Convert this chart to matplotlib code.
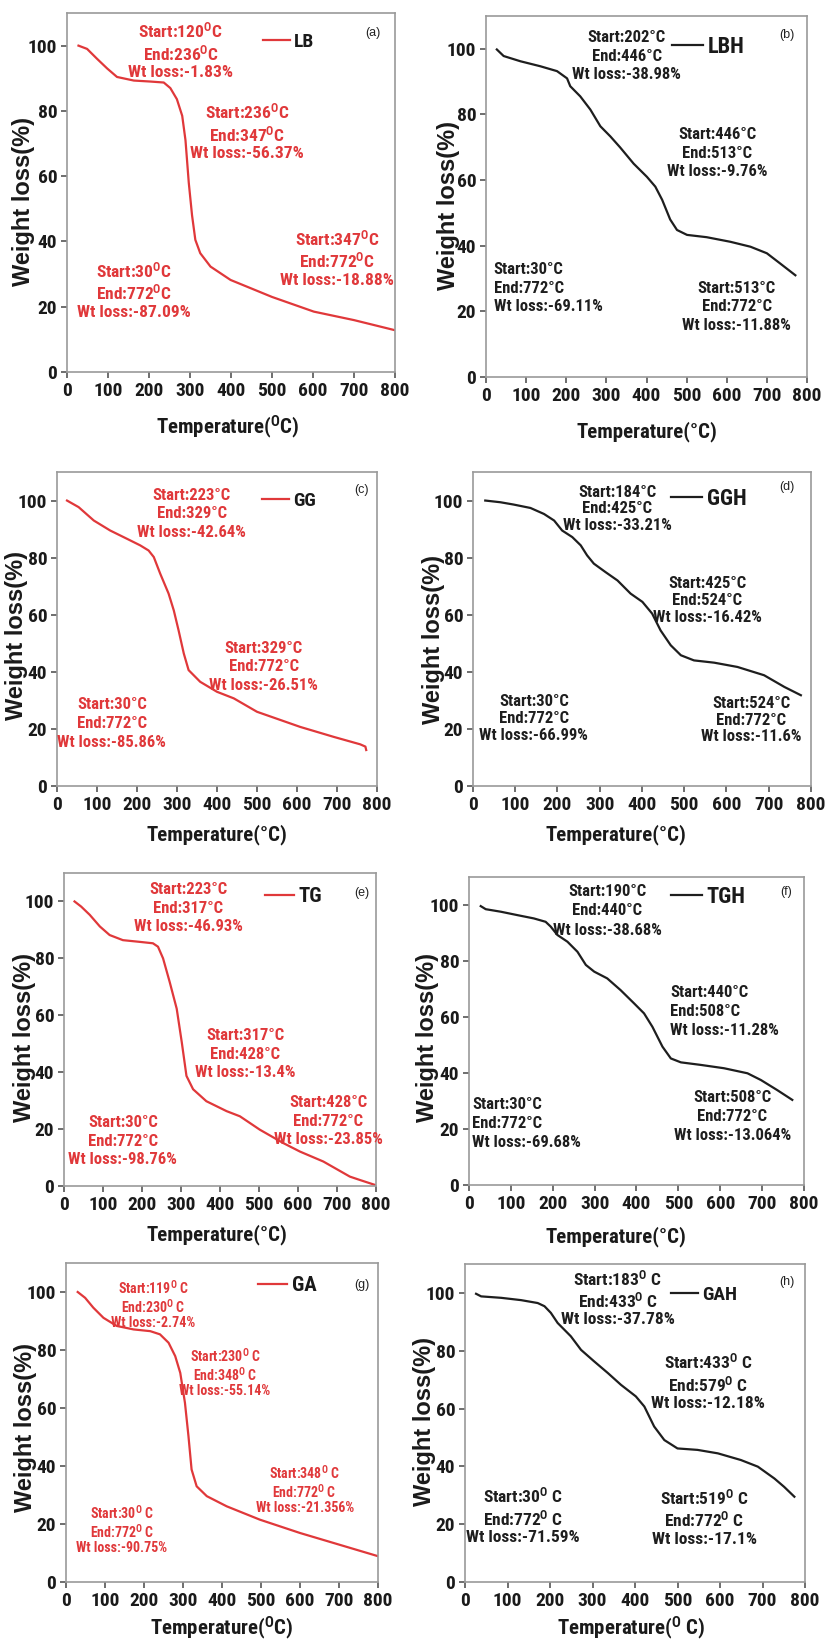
import matplotlib
matplotlib.use("Agg")
import matplotlib.pyplot as plt

plt.rcParams['font.family'] = ['Liberation Sans', 'DejaVu Sans']
plt.rcParams['font.weight'] = 'bold'
plt.rcParams['mathtext.default'] = 'regular'

NARROW = ['Liberation Sans Narrow', 'Roboto Condensed', 'Archivo Narrow', 'Liberation Sans', 'DejaVu Sans']
RED = '#e0383a'
DARK = '#1e1e1e'

# ---- data (temperature in C, weight %) ----
temp_lb = [28, 49, 73, 98, 122, 163, 203, 236, 252, 268, 281, 289, 297, 305, 313, 325, 350, 399, 500, 602, 700, 800]
wt_lb = [100, 99, 96, 93, 90.4, 89.3, 89, 88.7, 87, 83.6, 78.5, 71, 58, 48, 40.5, 36.4, 32.3, 28.2, 23, 18.5, 15.9, 12.8]

temp_lbh = [27, 44, 86, 135, 177, 202, 210, 235, 260, 285, 310, 334, 368, 401, 422, 439, 459, 476, 501, 550, 609, 659, 700, 733, 771]
wt_lbh = [99.8, 97.8, 96.2, 94.7, 93.2, 91, 88.6, 85.5, 81.5, 76.4, 73.3, 70, 65, 61, 58, 54, 48, 44.8, 43.3, 42.6, 41.2, 39.7, 37.7, 34.6, 31]

temp_gg = [25, 54, 92, 133, 175, 208, 229, 242, 258, 279, 292, 304, 317, 329, 358, 400, 442, 500, 608, 692, 758, 771, 773]
wt_gg = [100, 97.7, 93, 89.5, 86.6, 84.3, 82.5, 80.2, 74.4, 67.4, 61.5, 54.5, 46.4, 40.6, 36.5, 33, 30.7, 26, 20.7, 17.2, 14.6, 13.8, 12.6]

temp_ggh = [29, 65, 96, 136, 168, 192, 211, 235, 255, 270, 286, 313, 342, 373, 401, 424, 444, 468, 492, 523, 571, 626, 689, 737, 776]
wt_ggh = [100, 99.4, 98.6, 97.4, 95.3, 93, 89.5, 87.2, 84.3, 80.8, 77.9, 75, 72, 67.4, 64.5, 60.4, 54.5, 49.3, 45.8, 44, 43.2, 41.7, 38.8, 34.7, 31.8]

temp_tg = [27, 44, 66, 92, 117, 151, 194, 228, 241, 254, 271, 289, 302, 314, 331, 365, 417, 451, 502, 562, 605, 665, 733, 759, 797]
wt_tg = [100, 98.2, 95.3, 91.2, 88.2, 86.4, 85.8, 85.3, 84.1, 80, 71.7, 62.3, 50.5, 38.7, 34, 29.8, 26.3, 24.5, 19.8, 15.1, 12.1, 8.6, 3.3, 2.1, 0.4]

temp_tgh = [28, 40, 76, 115, 155, 183, 195, 211, 235, 259, 279, 299, 330, 362, 394, 418, 438, 462, 482, 506, 553, 609, 665, 697, 736, 772]
wt_tgh = [99.6, 98.5, 97.6, 96.4, 95.2, 94, 92.3, 89.3, 86.9, 83.3, 78.6, 76.2, 73.8, 69.6, 64.9, 61.3, 56.5, 49.4, 45.2, 43.8, 42.9, 41.7, 39.9, 37.5, 33.9, 30.4]

temp_ga = [30, 49, 70, 96, 130, 173, 216, 241, 263, 280, 293, 305, 314, 322, 335, 361, 412, 497, 600, 685, 800]
wt_ga = [100, 98, 94.6, 91.1, 88.3, 87.1, 86.5, 85.4, 82.5, 77.9, 72.1, 61.8, 50.3, 38.8, 33, 29.6, 26.1, 21.5, 16.9, 13.5, 8.9]

temp_gah = [26, 38, 85, 132, 171, 187, 202, 218, 249, 273, 304, 336, 367, 402, 422, 445, 469, 500, 547, 595, 649, 689, 728, 751, 775]
wt_gah = [99.7, 98.8, 98.3, 97.5, 96.5, 95.4, 93.1, 89.6, 85, 80.3, 76.3, 72.3, 68.2, 64.2, 60.7, 53.8, 49.1, 46.2, 45.7, 44.5, 42.2, 39.9, 35.8, 32.9, 29.5]

names = ['LB', 'LBH', 'GG', 'GGH', 'TG', 'TGH', 'GA', 'GAH']
tags = ['(a)', '(b)', '(c)', '(d)', '(e)', '(f)', '(g)', '(h)']

O = '$^{O}$'
notes_a = ['Start:120%sC\nEnd:236%sC\nWt loss:-1.83%%' % (O, O),
           'Start:236%sC\nEnd:347%sC\nWt loss:-56.37%%' % (O, O),
           'Start:347%sC\nEnd:772%sC\nWt loss:-18.88%%' % (O, O),
           'Start:30%sC\nEnd:772%sC\nWt loss:-87.09%%' % (O, O)]
notes_b = ['Start:202°C\nEnd:446°C\nWt loss:-38.98%',
           'Start:446°C\nEnd:513°C\nWt loss:-9.76%',
           'Start:30°C\nEnd:772°C\nWt loss:-69.11%',
           'Start:513°C\nEnd:772°C\nWt loss:-11.88%']
notes_c = ['Start:223°C\nEnd:329°C\nWt loss:-42.64%',
           'Start:329°C\nEnd:772°C\nWt loss:-26.51%',
           'Start:30°C\nEnd:772°C\nWt loss:-85.86%']
notes_d = ['Start:184°C\nEnd:425°C\nWt loss:-33.21%',
           'Start:425°C\nEnd:524°C\nWt loss:-16.42%',
           'Start:30°C\nEnd:772°C\nWt loss:-66.99%',
           'Start:524°C\nEnd:772°C\nWt loss:-11.6%']
notes_e = ['Start:223°C\nEnd:317°C\nWt loss:-46.93%',
           'Start:317°C\nEnd:428°C\nWt loss:-13.4%',
           'Start:428°C\nEnd:772°C\nWt loss:-23.85%',
           'Start:30°C\nEnd:772°C\nWt loss:-98.76%']
notes_f = ['Start:190°C\nEnd:440°C\nWt loss:-38.68%',
           'Start:440°C\nEnd:508°C\nWt loss:-11.28%',
           'Start:30°C\nEnd:772°C\nWt loss:-69.68%',
           'Start:508°C\nEnd:772°C\nWt loss:-13.064%']
notes_g = ['Start:119%s C\nEnd:230%s C\nWt loss:-2.74%%' % (O, O),
           'Start:230%s C\nEnd:348%s C\nWt loss:-55.14%%' % (O, O),
           'Start:348%s C\nEnd:772%s C\nWt loss:-21.356%%' % (O, O),
           'Start:30%s C\nEnd:772%s C\nWt loss:-90.75%%' % (O, O)]
notes_h = ['Start:183%s C\nEnd:433%s C\nWt loss:-37.78%%' % (O, O),
           'Start:433%s C\nEnd:579%s C\nWt loss:-12.18%%' % (O, O),
           'Start:30%s C\nEnd:772%s C\nWt loss:-71.59%%' % (O, O),
           'Start:519%s C\nEnd:772%s C\nWt loss:-17.1%%' % (O, O)]

xlabels = ['Temperature(%sC)' % O, 'Temperature(°C)', 'Temperature(°C)', 'Temperature(°C)',
           'Temperature(°C)', 'Temperature(°C)', 'Temperature(%sC)' % O, 'Temperature(%s C)' % O]

# ---- layout (pixels of the 828x1642 canvas) ----
W, H = 828, 1642
boxes = [(67, 395, 13, 372), (486, 807, 16, 377),
         (57, 377, 472, 786), (473, 811, 472, 786),
         (64, 376, 873, 1186), (469, 804, 877, 1185),
         (66, 378, 1263, 1582), (465, 805, 1264, 1582)]
# note positions: (x, y, ha) in data units
note_pos = [
    [(277, 98.5, 'center'), (439, 73.8, 'center'), (659, 34.9, 'center'), (163, 25.1, 'center')],
    [(351, 97.8, 'center'), (576, 68.2, 'center'), (19, 27, 'left'), (625, 21.4, 'center')],
    [(337, 95.3, 'center'), (517, 41.7, 'center'), (137, 21.9, 'center')],
    [(341, 97.1, 'center'), (555, 65, 'center'), (144, 23.7, 'center'), (658, 23.1, 'center')],
    [(318, 97.6, 'center'), (464, 46.3, 'center'), (677, 22.8, 'center'), (151, 15.7, 'center')],
    [(330, 97.9, 'center'), (480, 61.9, 'left'), (8, 22, 'left'), (629, 24.4, 'center')],
    [(224, 95.7, 'center'), (408, 72.2, 'center'), (612, 31.9, 'center'), (143, 18.1, 'center')],
    [(359, 98.3, 'center'), (571, 69.4, 'center'), (136, 23.1, 'center'), (563, 22.5, 'center')],
]
note_size = [12.5, 12, 12, 12, 12, 12, 10, 12.5]
note_spacing = [1.15, 1.3, 1.3, 1.15, 1.3, 1.35, 1.05, 1.15]
leg_pos = [(0.598, 0.92), (0.58, 0.915), (0.64, 0.909), (0.586, 0.914),
           (0.644, 0.924), (0.603, 0.936), (0.616, 0.928), (0.606, 0.902)]
leg_size = [14, 16, 14, 16, 15, 16, 15, 14]
tag_pos = [(0.933, 0.944), (0.938, 0.947), (0.953, 0.943), (0.929, 0.953),
           (0.955, 0.936), (0.946, 0.952), (0.949, 0.931), (0.947, 0.944)]
xlab_pos = [(0.49, -0.153), (0.50, -0.152), (0.50, -0.156), (0.424, -0.156),
            (0.49, -0.157), (0.44, -0.169), (0.50, -0.144), (0.49, -0.145)]
ylab_pos = [(-0.134, 0.474), (-0.118, 0.476), (-0.125, 0.478), (-0.118, 0.468),
            (-0.125, 0.476), (-0.125, 0.48), (-0.131, 0.483), (-0.118, 0.506)]

temps = [temp_lb, temp_lbh, temp_gg, temp_ggh, temp_tg, temp_tgh, temp_ga, temp_gah]
wts = [wt_lb, wt_lbh, wt_gg, wt_ggh, wt_tg, wt_tgh, wt_ga, wt_gah]
notes = [notes_a, notes_b, notes_c, notes_d, notes_e, notes_f, notes_g, notes_h]

fig = plt.figure(figsize=(W / 100, H / 100), dpi=100)

for i in range(8):
    left, right, top, bottom = boxes[i]
    ax = fig.add_axes([left / W, 1 - bottom / H, (right - left) / W, (bottom - top) / H])
    color = RED if i % 2 == 0 else DARK

    ax.plot(temps[i], wts[i], color=color, lw=1.6, label=names[i])
    ax.set_xlim(0, 800)
    ax.set_ylim(0, 110)
    ax.set_xticks(range(0, 801, 100))
    ax.set_yticks(range(0, 101, 20))

    for sp in ax.spines.values():
        sp.set_color('#9a9a9a')
        sp.set_linewidth(1.2)
    ax.tick_params(direction='out', length=4, width=1.2, color='#555555',
                   pad=3, labelcolor='#1a1a1a')
    plt.setp(ax.get_xticklabels() + ax.get_yticklabels(), family=NARROW, fontsize=14, fontweight='bold')

    for (x, y, ha), s in zip(note_pos[i], notes[i]):
        ax.text(x, y, s, ha=ha, va='center', multialignment='center' if ha == 'center' else 'left',
                color=color, family=NARROW, fontsize=note_size[i], fontweight='bold',
                linespacing=note_spacing[i])

    leg = ax.legend(loc='center left', bbox_to_anchor=leg_pos[i], frameon=False,
                    handlelength=1.4, handletextpad=0.2, borderpad=0, borderaxespad=0,
                    prop={'family': NARROW, 'weight': 'bold', 'size': leg_size[i]})
    for t in leg.get_texts():
        t.set_color('#1a1a1a')

    ax.text(tag_pos[i][0], tag_pos[i][1], tags[i], transform=ax.transAxes, ha='center', va='center',
            fontsize=9, fontweight='normal', color='#222222')

    ax.set_xlabel(xlabels[i], family=NARROW, fontsize=15, fontweight='bold', va='center', color='#1a1a1a')
    ax.xaxis.set_label_coords(*xlab_pos[i])
    ax.set_ylabel('Weight loss(%)', fontsize=17, fontweight='bold', va='center', color='#1a1a1a')
    ax.yaxis.set_label_coords(*ylab_pos[i])

fig.savefig('out.png', dpi=100)
